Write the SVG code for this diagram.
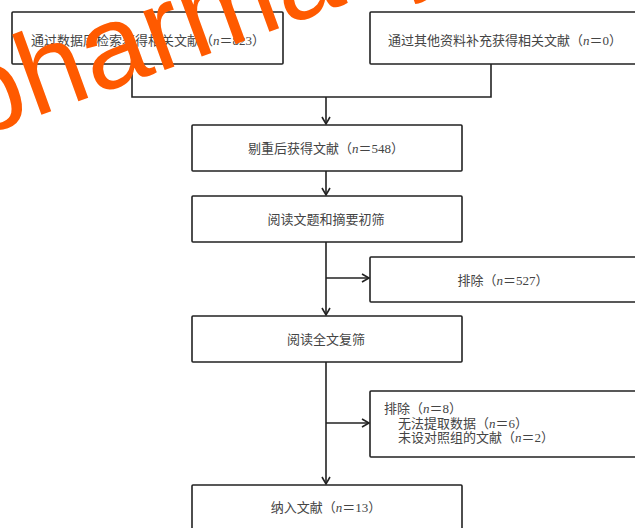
<svg xmlns="http://www.w3.org/2000/svg" width="635" height="528" viewBox="0 0 635 528">
<defs>
<style>
.box{fill:#fff;stroke:#222;stroke-width:1.6}
.t{font-family:"Liberation Serif","Noto Sans CJK SC",serif;font-size:13px;fill:#444}
.i{font-style:italic}
.c{stroke:#222;stroke-width:1.6;fill:none}
.wm{font-family:"Liberation Sans","DejaVu Sans",sans-serif;font-size:118px;fill:#ff5a00}
</style>
<marker id="arr" markerWidth="10" markerHeight="10" refX="8" refY="5" orient="auto" markerUnits="userSpaceOnUse">
<path d="M1,1 L8,5 L1,9" fill="none" stroke="#222" stroke-width="1.6"/>
</marker>
</defs>
<rect width="635" height="528" fill="#fff"/>
<g id="connectors">
<path class="c" d="M132,64 V97 H491 V64"/>
<path class="c" d="M326,97 V124" marker-end="url(#arr)"/>
<path class="c" d="M326,171 V195" marker-end="url(#arr)"/>
<path class="c" d="M326,242 V315" marker-end="url(#arr)"/>
<path class="c" d="M326,278 H369" marker-end="url(#arr)"/>
<path class="c" d="M326,362 V484" marker-end="url(#arr)"/>
<path class="c" d="M326,423 H369" marker-end="url(#arr)"/>
</g>
<g id="n1"><rect class="box" x="12" y="12" width="271" height="52" rx="1"/><text class="t" x="148" y="45" text-anchor="middle">通过数据库检索获得相关文献（<tspan class="i">n</tspan>＝823）</text></g>
<g id="n2"><rect class="box" x="370" y="12" width="272" height="52" rx="1"/><text class="t" x="505" y="45" text-anchor="middle">通过其他资料补充获得相关文献（<tspan class="i">n</tspan>＝0）</text></g>
<g id="n3"><rect class="box" x="192" y="125" width="270" height="46" rx="1"/><text class="t" x="326" y="153" text-anchor="middle">剔重后获得文献（<tspan class="i">n</tspan>＝548）</text></g>
<g id="n4"><rect class="box" x="192" y="196" width="270" height="46" rx="1"/><text class="t" x="326" y="224" text-anchor="middle">阅读文题和摘要初筛</text></g>
<g id="n5"><rect class="box" x="370" y="257" width="272" height="45" rx="1"/><text class="t" x="503" y="285" text-anchor="middle">排除（<tspan class="i">n</tspan>＝527）</text></g>
<g id="n6"><rect class="box" x="192" y="316" width="270" height="46" rx="1"/><text class="t" x="326" y="344" text-anchor="middle">阅读全文复筛</text></g>
<g id="n7"><rect class="box" x="370" y="391" width="272" height="66" rx="1"/>
<text class="t" x="384" y="413">排除（<tspan class="i">n</tspan>＝8）</text>
<text class="t" x="398" y="428">无法提取数据（<tspan class="i">n</tspan>＝6）</text>
<text class="t" x="398" y="442">未设对照组的文献（<tspan class="i">n</tspan>＝2）</text></g>
<g id="n8"><rect class="box" x="192" y="485" width="270" height="50" rx="1"/><text class="t" x="326" y="512" text-anchor="middle">纳入文献（<tspan class="i">n</tspan>＝13）</text></g>
<text class="wm" transform="translate(-28,140) rotate(-20)">pharmacy</text>
</svg>
